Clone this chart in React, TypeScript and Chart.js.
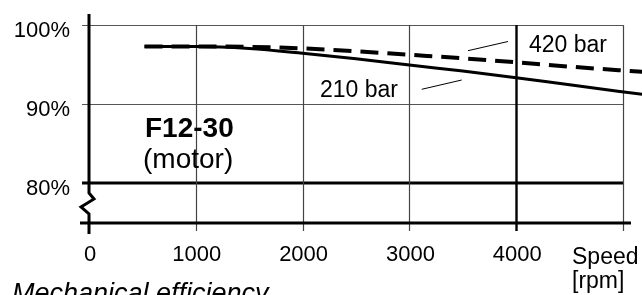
import React, { useEffect, useRef } from "react";
import { Chart, registerables } from "chart.js";

Chart.register(...registerables);

const speedRpm = [520, 1000, 1500, 2000, 2500, 3000, 3500, 4000, 4500, 5180];
const eff420 = [97.3, 97.3, 97.25, 97.05, 96.7, 96.25, 95.8, 95.3, 94.75, 94.1];
const eff210 = [97.3, 97.3, 97.05, 96.45, 95.75, 94.95, 94.2, 93.35, 92.45, 91.25];
const xTicks = [0, 1000, 2000, 3000, 4000];
const xGrid = [1000, 2000, 3000, 4000, 5000];
const yTicks = [100, 90, 80];
const yTickLabels = ["100%", "90%", "80%"];

const FONT = '"Liberation Sans", Arial, Helvetica, sans-serif';

const decorPlugin = {
  id: "decor",
  beforeDatasetsDraw(chart: any) {
    const ctx = chart.ctx as CanvasRenderingContext2D;
    const xs = chart.scales.x;
    const ys = chart.scales.y;
    const x0 = xs.getPixelForValue(0);
    const x5 = xs.getPixelForValue(5000);
    const yBottom = ys.getPixelForValue(75);
    const yTop = ys.getPixelForValue(ys.max);
    const y100 = ys.getPixelForValue(100);
    ctx.save();
    ctx.lineCap = "butt";
    // horizontal grid
    yTicks.forEach((v) => {
      const y = Math.round(ys.getPixelForValue(v));
      ctx.beginPath();
      if (v === 80) {
        ctx.lineWidth = 3;
        ctx.strokeStyle = "#000";
        ctx.moveTo(x0 - 7, y);
        ctx.lineTo(x5, y);
      } else {
        ctx.lineWidth = 1.2;
        ctx.strokeStyle = "#555";
        ctx.moveTo(x0 - 7, y + 0.5);
        ctx.lineTo(x5, y + 0.5);
      }
      ctx.stroke();
    });
    // vertical grid
    xGrid.forEach((v) => {
      const x = Math.round(xs.getPixelForValue(v));
      ctx.beginPath();
      if (v === 4000) {
        ctx.lineWidth = 2.4;
        ctx.strokeStyle = "#000";
      } else {
        ctx.lineWidth = 1.2;
        ctx.strokeStyle = "#444";
      }
      ctx.moveTo(x + 0.5, y100);
      ctx.lineTo(x + 0.5, yBottom + 8);
      ctx.stroke();
    });
    // bottom axis
    ctx.beginPath();
    ctx.lineWidth = 3;
    ctx.strokeStyle = "#000";
    ctx.moveTo(x0 - 9, yBottom);
    ctx.lineTo(xs.getPixelForValue(5075), yBottom);
    ctx.stroke();
    // y axis with zigzag break
    const zTop = ys.getPixelForValue(78.8);
    ctx.beginPath();
    ctx.lineWidth = 3;
    ctx.lineJoin = "miter";
    ctx.moveTo(x0, yTop);
    ctx.lineTo(x0, zTop);
    ctx.lineTo(x0 + 5, zTop + 6);
    ctx.lineTo(x0 - 8, zTop + 14);
    ctx.lineTo(x0, zTop + 21);
    ctx.lineTo(x0, yBottom + 11);
    ctx.stroke();
    // tick labels
    ctx.fillStyle = "#000";
    ctx.font = `22px ${FONT}`;
    ctx.textAlign = "right";
    ctx.textBaseline = "alphabetic";
    yTicks.forEach((v, i) => {
      ctx.fillText(yTickLabels[i], x0 - 19, ys.getPixelForValue(v) + 12);
    });
    ctx.textAlign = "center";
    xTicks.forEach((v) => {
      ctx.fillText(String(v), xs.getPixelForValue(v) + 1, yBottom + 37.5);
    });
    ctx.restore();
  },
  afterDatasetsDraw(chart: any) {
    const ctx = chart.ctx as CanvasRenderingContext2D;
    ctx.save();
    ctx.fillStyle = "#000";
    ctx.strokeStyle = "#000";
    ctx.textBaseline = "alphabetic";
    ctx.textAlign = "left";
    ctx.font = `23px ${FONT}`;
    ctx.fillText("Speed", 572, 264);
    ctx.fillText("[rpm]", 572, 288);
    ctx.fillText("420 bar", 529, 51.5);
    ctx.fillText("210 bar", 320, 96.5);
    ctx.font = `bold 28px ${FONT}`;
    ctx.fillText("F12-30", 145, 137);
    ctx.font = `28px ${FONT}`;
    ctx.fillText("(motor)", 143, 168);
    ctx.font = `italic 27px ${FONT}`;
    ctx.fillText("Mechanical efficiency", 12, 302);
    // leader lines
    ctx.lineWidth = 1;
    ctx.beginPath();
    ctx.moveTo(468, 50.7);
    ctx.lineTo(508, 41.5);
    ctx.moveTo(421.7, 89.3);
    ctx.lineTo(461.7, 80);
    ctx.stroke();
    ctx.restore();
  },
};

export default function App() {
  const ref = useRef<HTMLCanvasElement | null>(null);
  useEffect(() => {
    if (!ref.current) return;
    const chart = new Chart(ref.current, {
      type: "line",
      data: {
        labels: speedRpm,
        datasets: [
          {
            label: "420 bar",
            data: speedRpm.map((x, i) => ({ x, y: eff420[i] })),
            borderColor: "#000",
            borderWidth: 4,
            borderDash: [18, 9],
            pointRadius: 0,
            tension: 0.4,
            cubicInterpolationMode: "monotone",
            fill: false,
          },
          {
            label: "210 bar",
            data: speedRpm.map((x, i) => ({ x, y: eff210[i] })),
            borderColor: "#000",
            borderWidth: 3,
            pointRadius: 0,
            tension: 0.4,
            cubicInterpolationMode: "monotone",
            fill: false,
          },
        ],
      },
      options: {
        responsive: false,
        animation: false,
        layout: { padding: { left: 89, right: 0, top: 14, bottom: 72 } },
        plugins: { legend: { display: false }, tooltip: { enabled: false } },
        scales: {
          x: { type: "linear", min: 0, max: 5178, display: false },
          y: { type: "linear", min: 75, max: 101.4, display: false },
        },
      },
      plugins: [decorPlugin],
    });
    return () => chart.destroy();
  }, []);
  return (
    <div style={{ position: "fixed", left: 0, top: 0, width: 642, height: 295, background: "#fff" }}>
      <canvas ref={ref} width={642} height={295} style={{ display: "block" }} />
    </div>
  );
}
